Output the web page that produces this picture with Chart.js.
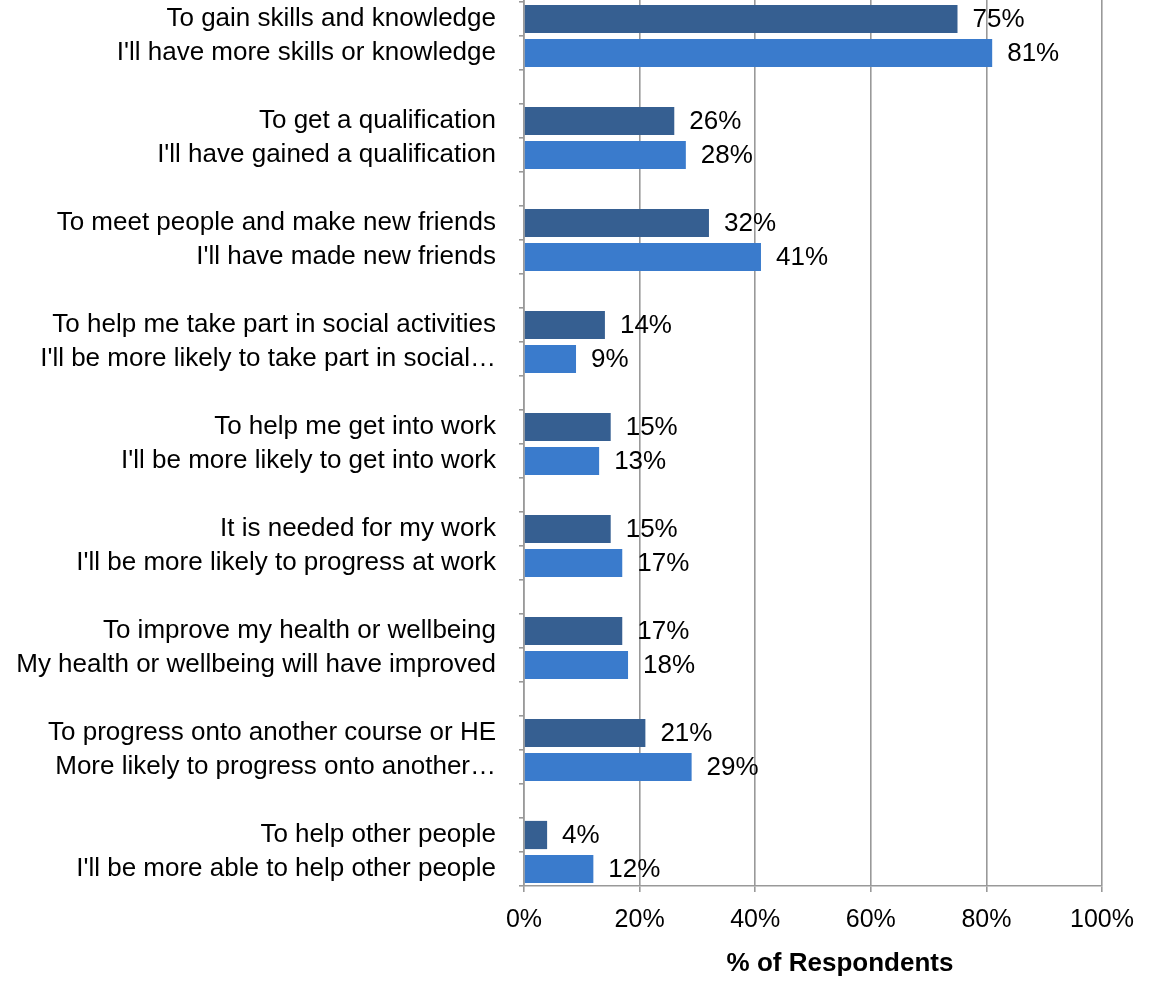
<!DOCTYPE html>
<html>
<head>
<meta charset="utf-8">
<script src="https://cdn.jsdelivr.net/npm/chart.js@4"></script>
<style>
  html, body { margin: 0; padding: 0; background: #fff; overflow: hidden; }
  #wrap { position: absolute; left: 0; top: -34px; width: 1149px; height: 1015px; }
</style>
</head>
<body>
<div id="wrap"><canvas id="chart"></canvas></div>
<script>
// reasons for starting (dark bars) and expected outcomes (light bars)
const reasons = [
  "To gain skills and knowledge",
  "To get a qualification",
  "To meet people and make new friends",
  "To help me take part in social activities",
  "To help me get into work",
  "It is needed for my work",
  "To improve my health or wellbeing",
  "To progress onto another course or HE",
  "To help other people"
];
const outcomes = [
  "I'll have more skills or knowledge",
  "I'll have gained a qualification",
  "I'll have made new friends",
  "I'll be more likely to take part in social\u2026",
  "I'll be more likely to get into work",
  "I'll be more likely to progress at work",
  "My health or wellbeing will have improved",
  "More likely to progress onto another\u2026",
  "I'll be more able to help other people"
];
const reasonValues = [75, 26, 32, 14, 15, 15, 17, 21, 4];
const outcomeValues = [81, 28, 41, 9, 13, 17, 18, 29, 12];
const xTicks = [0, 20, 40, 60, 80, 100];
const axisTitle = "% of Respondents";

// each pair gets a blank row above it
const labels = [];
const reasonData = [];
const outcomeData = [];
reasons.forEach((r, i) => {
  labels.push("", r, outcomes[i]);
  reasonData.push(null, reasonValues[i], null);
  outcomeData.push(null, null, outcomeValues[i]);
});

const FONT = "'Liberation Sans', Arial, sans-serif";

const valueLabels = {
  id: 'valueLabels',
  afterDatasetsDraw(chart) {
    const ctx = chart.ctx;
    ctx.save();
    ctx.font = `26px ${FONT}`;
    ctx.fillStyle = '#000';
    ctx.textAlign = 'left';
    ctx.textBaseline = 'middle';
    chart.data.datasets.forEach((ds, di) => {
      chart.getDatasetMeta(di).data.forEach((bar, i) => {
        const v = ds.data[i];
        if (v == null) return;
        ctx.fillText(v + '%', bar.x + 15, bar.y + 1);
      });
    });
    // axis title, sitting a bit right of centre as in the original
    const xs = chart.scales.x;
    ctx.font = `bold 26px ${FONT}`;
    ctx.textAlign = 'center';
    ctx.fillText(axisTitle, xs.left + xs.width / 2 + 27, xs.top + 78);
    ctx.restore();
  }
};

new Chart(document.getElementById('chart').getContext('2d'), {
  type: 'bar',
  data: {
    labels: labels,
    datasets: [
      { label: 'Reason', data: reasonData, backgroundColor: '#365F91' },
      { label: 'Outcome', data: outcomeData, backgroundColor: '#3A7BCC' }
    ]
  },
  options: {
    indexAxis: 'y',
    responsive: true,
    maintainAspectRatio: false,
    animation: false,
    layout: { padding: { top: 2, right: 47, bottom: 0, left: 0 } },
    datasets: { bar: { grouped: false, barPercentage: 0.83, categoryPercentage: 1 } },
    plugins: { legend: { display: false }, tooltip: { enabled: false } },
    scales: {
      x: {
        min: 0, max: 100,
        afterBuildTicks: s => { s.ticks = xTicks.map(v => ({ value: v })); },
        afterFit: s => { s.height = 95; s.paddingLeft = 0; s.paddingRight = 0; },
        grid: { color: '#999', lineWidth: 1.6, tickLength: 6 },
        border: { color: '#999', width: 1.6 },
        ticks: {
          callback: v => v + '%',
          color: '#000', padding: 13,
          font: { size: 25, family: FONT }
        }
      },
      y: {
        afterFit: s => { s.width = 524; s.paddingTop = 0; s.paddingBottom = 0; },
        grid: { drawOnChartArea: false, color: '#999', lineWidth: 1.6, tickLength: 5 },
        border: { color: '#999', width: 1.6 },
        ticks: {
          autoSkip: false, color: '#000', padding: 23,
          font: { size: 26, family: FONT }
        }
      }
    }
  },
  plugins: [valueLabels]
});
</script>
</body>
</html>
